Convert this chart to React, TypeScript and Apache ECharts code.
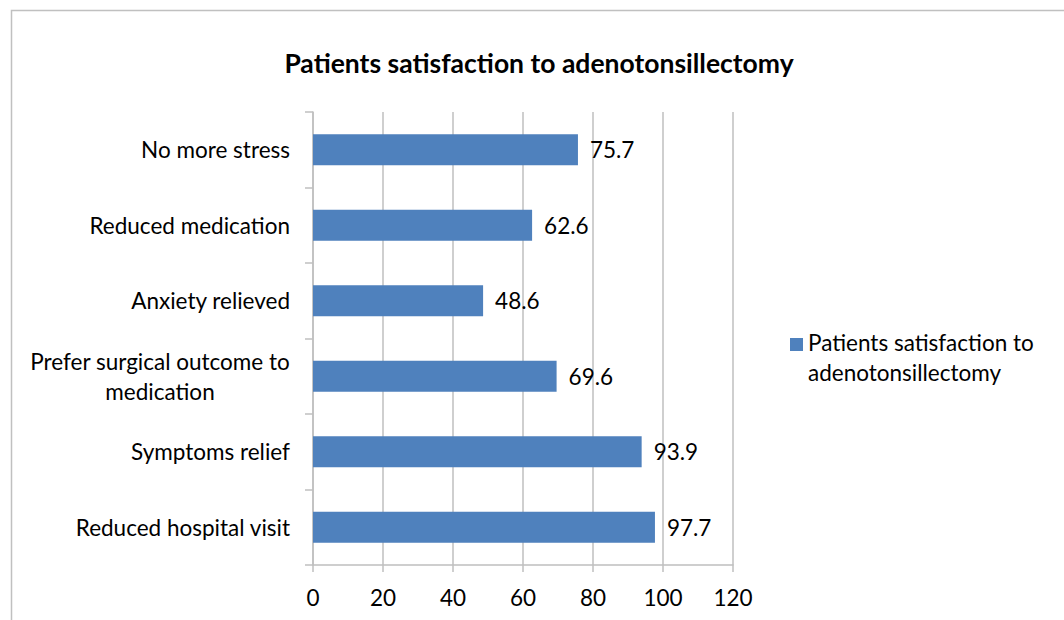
import React, { useEffect, useRef } from "react";
import * as echarts from "echarts";

const categories = [
  "No more stress",
  "Reduced medication",
  "Anxiety relieved",
  "Prefer surgical outcome to medication",
  "Symptoms relief",
  "Reduced hospital visit",
];
const values = [75.7, 62.6, 48.6, 69.6, 93.9, 97.7];
const seriesName = "Patients satisfaction to adenotonsillectomy";
const titleText = "Patients satisfaction to adenotonsillectomy";

const FONT = "Lato";
const FS = 22.5;

export default function App() {
  const ref = useRef<HTMLDivElement>(null);
  useEffect(() => {
    if (!ref.current) return;
    const chart = echarts.init(ref.current, null, { renderer: "svg" });
    chart.setOption({
      animation: false,
      backgroundColor: "#ffffff",
      textStyle: { fontFamily: FONT },
      title: {
        text: titleText,
        left: 534,
        textAlign: "center",
        top: 44,
        textStyle: { fontFamily: FONT, fontSize: 26.5, fontWeight: "bold", color: "#000" },
      },
      graphic: [
        {
          type: "rect",
          shape: { x: 11.5, y: 10.5, width: 1100, height: 700 },
          style: { fill: "none", stroke: "#c0c0c0", lineWidth: 1.5 },
          silent: true,
        },
      ],
      legend: {
        left: 785,
        top: 322,
        itemWidth: 13,
        itemHeight: 38,
        itemGap: 7,
        icon: "path://M0,0h13v13h-13zM6,37.99h0.01v0.01h-0.01z",
        formatter: () => "Patients satisfaction to\nadenotonsillectomy",
        textStyle: { fontFamily: FONT, fontSize: FS, color: "#000", lineHeight: 30 },
      },
      grid: { left: 313, right: 331, top: 112, bottom: 55, containLabel: false },
      xAxis: {
        type: "value",
        min: 0,
        max: 120,
        interval: 20,
        axisLine: { show: true, lineStyle: { color: "#bfbfbf", width: 1.5 } },
        axisTick: { show: true, length: 7, lineStyle: { color: "#bfbfbf", width: 1.5 } },
        splitLine: { show: true, lineStyle: { color: "#bfbfbf", width: 1.5 } },
        axisLabel: { fontFamily: FONT, fontSize: FS, color: "#000", margin: 21 },
      },
      yAxis: {
        type: "category",
        data: categories,
        inverse: true,
        axisLine: { show: true, lineStyle: { color: "#bfbfbf", width: 1.5 } },
        axisTick: { show: true, length: 8, lineStyle: { color: "#bfbfbf", width: 1.5 } },
        axisLabel: {
          fontFamily: FONT,
          fontSize: FS,
          color: "#000",
          margin: 23,
          formatter: (v: string) =>
            v === "Prefer surgical outcome to medication"
              ? "{c|Prefer surgical outcome to}\n{c|medication}"
              : v,
          rich: {
            c: { align: "center", fontFamily: FONT, fontSize: FS, color: "#000", lineHeight: 30 },
          },
        },
      },
      series: [
        {
          name: seriesName,
          type: "bar",
          data: values,
          barWidth: 31,
          itemStyle: { color: "#4f81bd" },
          label: {
            show: true,
            position: "right",
            distance: 12,
            fontFamily: FONT,
            fontSize: FS,
            color: "#000",
          },
        },
      ],
    });
    return () => chart.dispose();
  }, []);
  return <div ref={ref} style={{ width: 1064, height: 620, position: "absolute", left: 0, top: 0 }} />;
}
